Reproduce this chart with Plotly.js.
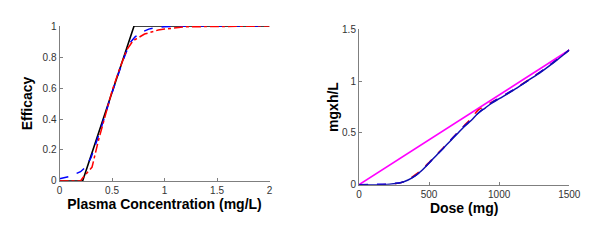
<!DOCTYPE html>
<html>
<head>
<meta charset="utf-8">
<script src="https://cdn.plot.ly/plotly-3.0.1.min.js"></script>
<style>
  html, body { margin: 0; padding: 0; background: #fff; }
  #chart { width: 600px; height: 247px; }
</style>
</head>
<body>
<div id="chart"></div>
<script>
// ---- Left panel: Efficacy vs Plasma Concentration ----
const concBlack = [0, 0.22, 0.71, 2];
const effBlack  = [0, 0, 1, 1];

const concBlue = [0, 0.1, 0.2, 0.25, 0.3, 0.4, 0.5, 0.6, 0.67, 0.72, 0.77, 0.85, 0.91, 1.0, 1.2, 2];
const effBlue  = [0.015, 0.03, 0.06, 0.09, 0.15, 0.35, 0.57, 0.77, 0.89, 0.93, 0.957, 0.98, 0.99, 0.995, 1, 1];

const concRed = [0, 0.1, 0.2, 0.22, 0.26, 0.31, 0.37, 0.45, 0.5, 0.57, 0.64, 0.7, 0.81, 0.94, 1.0, 1.2, 2];
const effRed  = [0, 0, 0, 0.02, 0.05, 0.09, 0.26, 0.46, 0.58, 0.72, 0.845, 0.905, 0.948, 0.974, 0.98, 0.995, 1];

// ---- Right panel: mgxh/L vs Dose ----
const dose = [0, 100, 200, 250, 300, 350, 400, 450, 500, 550, 600, 650, 700, 750, 800, 850, 900, 950, 1000, 1100, 1200, 1300, 1400, 1500];
const aucSolid  = [0, 0, 0.003, 0.01, 0.02, 0.045, 0.085, 0.14, 0.21, 0.28, 0.35, 0.42, 0.49, 0.56, 0.62, 0.69, 0.74, 0.79, 0.83, 0.91, 1.0, 1.09, 1.19, 1.3];
const aucDashB  = [0, 0.003, 0.006, 0.012, 0.022, 0.045, 0.085, 0.14, 0.21, 0.28, 0.35, 0.425, 0.495, 0.565, 0.625, 0.69, 0.745, 0.795, 0.835, 0.915, 1.0, 1.095, 1.195, 1.3];
const aucDashR  = [0, 0, 0.002, 0.008, 0.02, 0.05, 0.095, 0.15, 0.215, 0.285, 0.355, 0.425, 0.5, 0.57, 0.64, 0.72, 0.76, 0.8, 0.835, 0.915, 1.005, 1.095, 1.195, 1.3];
const doseLin = [0, 1500];
const aucLin  = [0, 1.3];

const FONT = 'Arial, "Liberation Sans", Helvetica, sans-serif';

const traces = [
  { x: concBlack, y: effBlack, xaxis: 'x', yaxis: 'y', mode: 'lines',
    line: { color: '#000000', width: 1.6 } },
  { x: concBlue, y: effBlue, xaxis: 'x', yaxis: 'y', mode: 'lines',
    line: { color: '#0000ff', width: 1.5, dash: 'dash' } },
  { x: concRed, y: effRed, xaxis: 'x', yaxis: 'y', mode: 'lines',
    line: { color: '#ff0000', width: 1.5, dash: 'dashdot' } },

  { x: doseLin, y: aucLin, xaxis: 'x2', yaxis: 'y2', mode: 'lines',
    line: { color: '#ff00ff', width: 1.6 } },
  { x: dose, y: aucDashR, xaxis: 'x2', yaxis: 'y2', mode: 'lines',
    line: { color: '#ff0000', width: 1.5, dash: 'dash', shape: 'spline' } },
  { x: dose, y: aucDashB, xaxis: 'x2', yaxis: 'y2', mode: 'lines',
    line: { color: '#0000ff', width: 1.5, dash: 'dash', shape: 'spline' } },
  { x: dose, y: aucSolid, xaxis: 'x2', yaxis: 'y2', mode: 'lines',
    line: { color: '#1010b0', width: 1.5, shape: 'spline' } }
];

const axisCommon = {
  showline: true, linecolor: '#7f7f7f', linewidth: 1,
  ticks: 'inside', ticklen: 3, tickcolor: '#7f7f7f', tickwidth: 1,
  showgrid: false, zeroline: false, mirror: false,
  tickfont: { family: FONT, size: 10, color: '#333333' }
};
const titleFont = { family: FONT, size: 14, color: '#000000', weight: 'bold' };

const layout = {
  width: 600, height: 247,
  margin: { l: 0, r: 0, t: 0, b: 0 },
  paper_bgcolor: '#ffffff', plot_bgcolor: '#ffffff',
  showlegend: false,
  xaxis: Object.assign({}, axisCommon, {
    domain: [0.0992, 0.4492], range: [0, 2], tickvals: [0, 0.5, 1, 1.5, 2],
    anchor: 'y',
    title: { text: '<b>Plasma Concentration (mg/L)</b>', font: titleFont, standoff: 4 }
  }),
  yaxis: Object.assign({}, axisCommon, {
    domain: [0.2672, 0.8947], range: [0, 1], tickvals: [0, 0.2, 0.4, 0.6, 0.8, 1],
    anchor: 'x',
    title: { text: '<b>Efficacy</b>', font: titleFont, standoff: 6 }
  }),
  xaxis2: Object.assign({}, axisCommon, {
    domain: [0.5983, 0.9488], range: [0, 1500], tickvals: [0, 500, 1000, 1500],
    anchor: 'y2',
    title: { text: '<b>Dose (mg)</b>', font: titleFont, standoff: 4 }
  }),
  yaxis2: Object.assign({}, axisCommon, {
    domain: [0.2522, 0.8814], range: [0, 1.5], tickvals: [0, 0.5, 1, 1.5],
    anchor: 'x2',
    title: { text: '<b>mgxh/L</b>', font: titleFont, standoff: 0 }
  })
};

Plotly.newPlot('chart', traces, layout, { staticPlot: true, displayModeBar: false });
</script>
</body>
</html>
